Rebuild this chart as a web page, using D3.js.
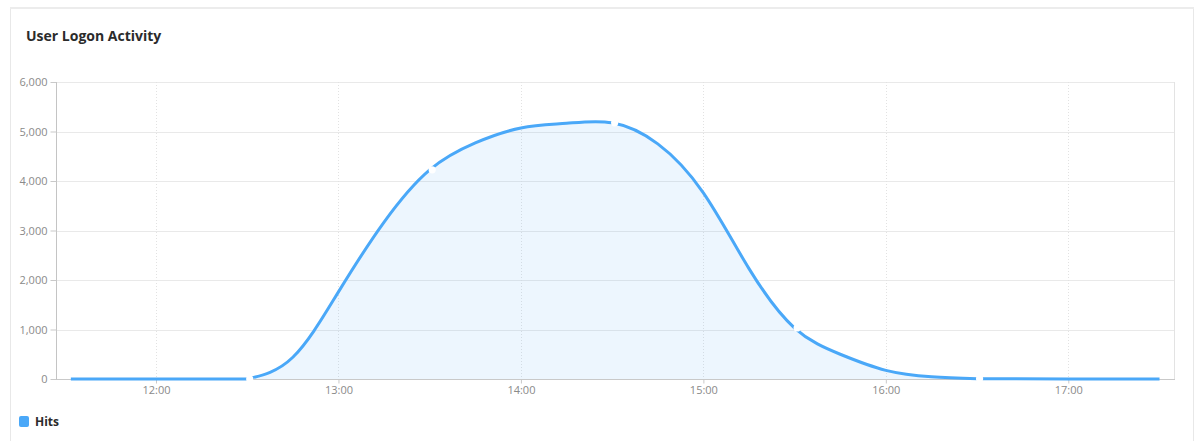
<!DOCTYPE html>
<html>
<head>
<meta charset="utf-8">
<script src="https://cdn.jsdelivr.net/npm/d3@7/dist/d3.min.js"></script>
<style>
  html, body { margin: 0; padding: 0; background: #fff; }
  svg { display: block; font-family: "Open Sans", "Noto Sans", sans-serif; }
</style>
</head>
<body>
<svg id="chart" width="1194" height="441"></svg>
<script>
// ---- data ----
const title = "User Logon Activity";
const seriesName = "Hits";
const times = ["11:32","12:00","12:30","12:45","13:00","13:15","13:30","13:45","14:00","14:15","14:30",
               "14:45","15:00","15:15","15:30","15:45","16:00","16:15","16:30","17:00","17:30"];
const hits  = [0, 0, 0, 440, 1760, 3170, 4225, 4770, 5070, 5165, 5175,
               4750, 3760, 2230, 1030, 500, 175, 45, 5, 0, 0];
const markerTimes = ["12:30","13:30","14:30","15:30","16:30"];
const xTickLabels = ["12:00","13:00","14:00","15:00","16:00","17:00"];
const yTicks = [0, 1000, 2000, 3000, 4000, 5000, 6000];

// ---- helpers ----
const parseT = s => { const [h, m] = s.split(":").map(Number); return new Date(2020, 0, 1, h, m); };
const data = times.map((t, i) => ({ t: parseT(t), v: hits[i] }));
const tStart = +parseT("12:30"), tEnd = +parseT("16:30");
const flatA = data.filter(d => +d.t <= tStart);
const bump = data.filter(d => +d.t >= tStart && +d.t <= tEnd);
const flatB = data.filter(d => +d.t >= tEnd);

const svg = d3.select("#chart");
const L = 57, R = 1174, T = 82, B = 379;

// reference placement: 12:00 at 156, 17:00 at 1068.3
const xRef = d3.scaleTime().domain([parseT("12:00"), parseT("17:00")]).range([156, 1068.3]);
const x = d3.scaleTime().domain([xRef.invert(L), xRef.invert(R)]).range([L, R]);
const y = d3.scaleLinear().domain([0, 6000]).range([B, T]);

// card
svg.append("rect").attr("x", 10.5).attr("y", 7.5).attr("width", 1183).attr("height", 450)
  .attr("fill", "#fff").attr("stroke", "#e8e8e8").attr("stroke-width", 1);
svg.append("line").attr("x1", 10).attr("x2", 1194).attr("y1", 8).attr("y2", 8)
  .attr("stroke", "#ececec").attr("stroke-width", 2);

// title
svg.append("text").attr("x", 26).attr("y", 41).text(title)
  .attr("font-size", 14).attr("font-weight", 700).attr("fill", "#2b2b2b");

// horizontal gridlines
svg.append("g").selectAll("line").data(yTicks.filter(d => d > 0)).join("line")
  .attr("x1", L).attr("x2", R)
  .attr("y1", d => Math.round(y(d)) + 0.5).attr("y2", d => Math.round(y(d)) + 0.5)
  .attr("stroke", "#e9e9e9");

// vertical dotted gridlines
const hourTicks = xTickLabels.map(parseT);
svg.append("g").selectAll("line").data(hourTicks).join("line")
  .attr("x1", d => Math.round(x(d)) + 0.5).attr("x2", d => Math.round(x(d)) + 0.5)
  .attr("y1", T).attr("y2", B)
  .attr("stroke", "#e2e2e2").attr("stroke-dasharray", "1,2");

// right plot border
svg.append("line").attr("x1", R + 0.5).attr("x2", R + 0.5).attr("y1", T).attr("y2", B + 1)
  .attr("stroke", "#e3e3e3");

// area + line
const area = d3.area().x(d => x(d.t)).y0(y(0)).y1(d => y(d.v)).curve(d3.curveNatural);
const lineSmooth = d3.line().x(d => x(d.t)).y(d => y(d.v)).curve(d3.curveNatural);
const lineFlat = d3.line().x(d => x(d.t)).y(d => y(d.v)).curve(d3.curveMonotoneX);
svg.append("path").datum(bump).attr("d", area).attr("fill", "#4aa8f8").attr("fill-opacity", 0.1);

// x axis
const xAxis = d3.axisBottom(x).tickValues(hourTicks).tickFormat(d3.timeFormat("%H:%M")).tickSize(4).tickPadding(3);
const gx = svg.append("g").attr("transform", `translate(0,${B + 0.5})`).call(xAxis);
gx.select(".domain").attr("stroke", "#c9c9c9").attr("d", `M${L},0H${R + 1}`);
gx.selectAll(".tick line").attr("stroke", "#c9c9c9");
gx.selectAll(".tick text").attr("fill", "#8a8a8a").attr("font-size", 11)
  .attr("font-family", "'Open Sans', sans-serif");

// y axis
const yAxis = d3.axisLeft(y).tickValues(yTicks).tickFormat(d3.format(",")).tickSize(6).tickPadding(3);
const gy = svg.append("g").attr("transform", `translate(${L - 0.5},0)`).call(yAxis);
gy.select(".domain").attr("stroke", "#c4c4c4").attr("d", `M0,${T}V${B + 1}`);
gy.selectAll(".tick line").attr("stroke", "#c9c9c9");
gy.selectAll(".tick text").attr("fill", "#8a8a8a").attr("font-size", 11)
  .attr("font-family", "'Open Sans', sans-serif");

// series line (segments)
const lg0 = svg.append("g").attr("fill", "none").attr("stroke", "#4aa8f8").attr("stroke-width", 3);
lg0.append("path").datum(flatA).attr("d", lineFlat);
lg0.append("path").datum(bump).attr("d", lineSmooth);
lg0.append("path").datum(flatB).attr("d", lineFlat);

// gaps at segment points
svg.append("g").selectAll("circle").data(markerTimes.map(parseT)).join("circle")
  .attr("cx", d => x(d) + 2.5)
  .attr("cy", d => { const p = data.find(e => +e.t === +d); return y(p.v); })
  .attr("r", 3.6).attr("fill", "#fff");

// legend
const lg = svg.append("g").attr("transform", "translate(19,416)");
lg.append("rect").attr("width", 10).attr("height", 11).attr("rx", 2).attr("fill", "#4aa8f8");
lg.append("text").attr("x", 16).attr("y", 10).text(seriesName)
  .attr("font-size", 12).attr("font-weight", 700).attr("fill", "#2b2b2b");
</script>
</body>
</html>
